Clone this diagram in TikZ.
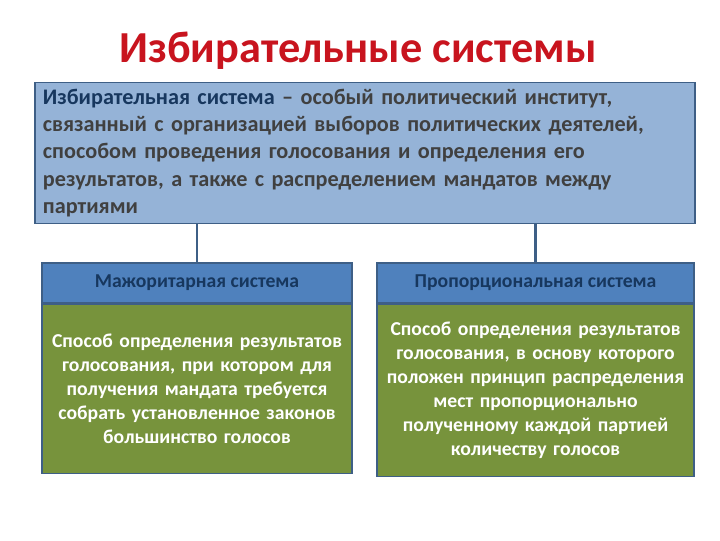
\documentclass[tikz,border=0pt]{standalone}
\usepackage{fontspec}
\setmainfont{Carlito}
\usepackage{xcolor}
\usetikzlibrary{positioning}
\definecolor{titlered}{HTML}{C8141E}
\definecolor{paleblue}{HTML}{95B3D7}
\definecolor{midblue}{HTML}{4F81BD}
\definecolor{edgeblue}{HTML}{3E5F86}
\definecolor{navy}{HTML}{17375E}
\definecolor{olive}{HTML}{77933C}
\definecolor{darkgrey}{HTML}{404040}

\begin{document}
\begin{tikzpicture}[x=0.025cm, y=-0.025cm]
\tikzstyle{topbox}=[rectangle, draw=edgeblue, line width=1.2pt, fill=paleblue, minimum width=16.5cm, minimum height=3.525cm, text width=16.1cm, align=left, inner sep=0pt, font=\bfseries\fontsize{15.8}{19.4}\selectfont, text=darkgrey]
\tikzstyle{headbox}=[rectangle, draw=edgeblue, line width=0.8pt, fill=midblue, minimum height=1.0cm, font=\bfseries\fontsize{14}{16}\selectfont, text=navy, inner sep=0pt]
\tikzstyle{bodybox}=[rectangle, draw=edgeblue, line width=0.8pt, fill=olive, align=center, font=\bfseries\fontsize{14}{17.1}\selectfont, text=white, inner sep=0pt]
\tikzstyle{connect}=[draw=edgeblue, line width=2pt]
  \useasboundingbox[fill=white] (0,0) rectangle (720,540);
  \node[font=\bfseries\fontsize{31.5}{34}\selectfont, text=titlered] (title) at (358,51) {Избирательные системы};
  \node[topbox] (defn) at (365,153) {\textcolor{navy}{Избирательная система} – особый политический институт,\\
    связанный с организацией выборов политических деятелей,\\
    способом проведения голосования и определения его\\
    результатов, а также с распределением мандатов между\\
    партиями};
  \node[headbox, minimum width=7.75cm] (major) at (197,283) {Мажоритарная система};
  \node[bodybox, minimum width=7.75cm, minimum height=4.225cm, text width=7.6cm, below=0pt of major] (majortext) {Способ определения результатов\\
    голосования, при котором для\\
    получения мандата требуется\\
    собрать установленное законов\\
    большинство голосов};
  \node[headbox, minimum width=7.925cm] (propor) at (535.5,283) {Пропорциональная система};
  \node[bodybox, minimum width=7.925cm, minimum height=4.3cm, text width=7.8cm, below=0pt of propor] (proportext) {Способ определения результатов\\
    голосования, в основу которого\\
    положен принцип распределения\\
    мест пропорционально\\
    полученному каждой партией\\
    количеству голосов};
  \draw[connect] (defn.south -| major.north) -- (major.north);
  \draw[connect] (defn.south -| propor.north) -- (propor.north);
\end{tikzpicture}
\end{document}
